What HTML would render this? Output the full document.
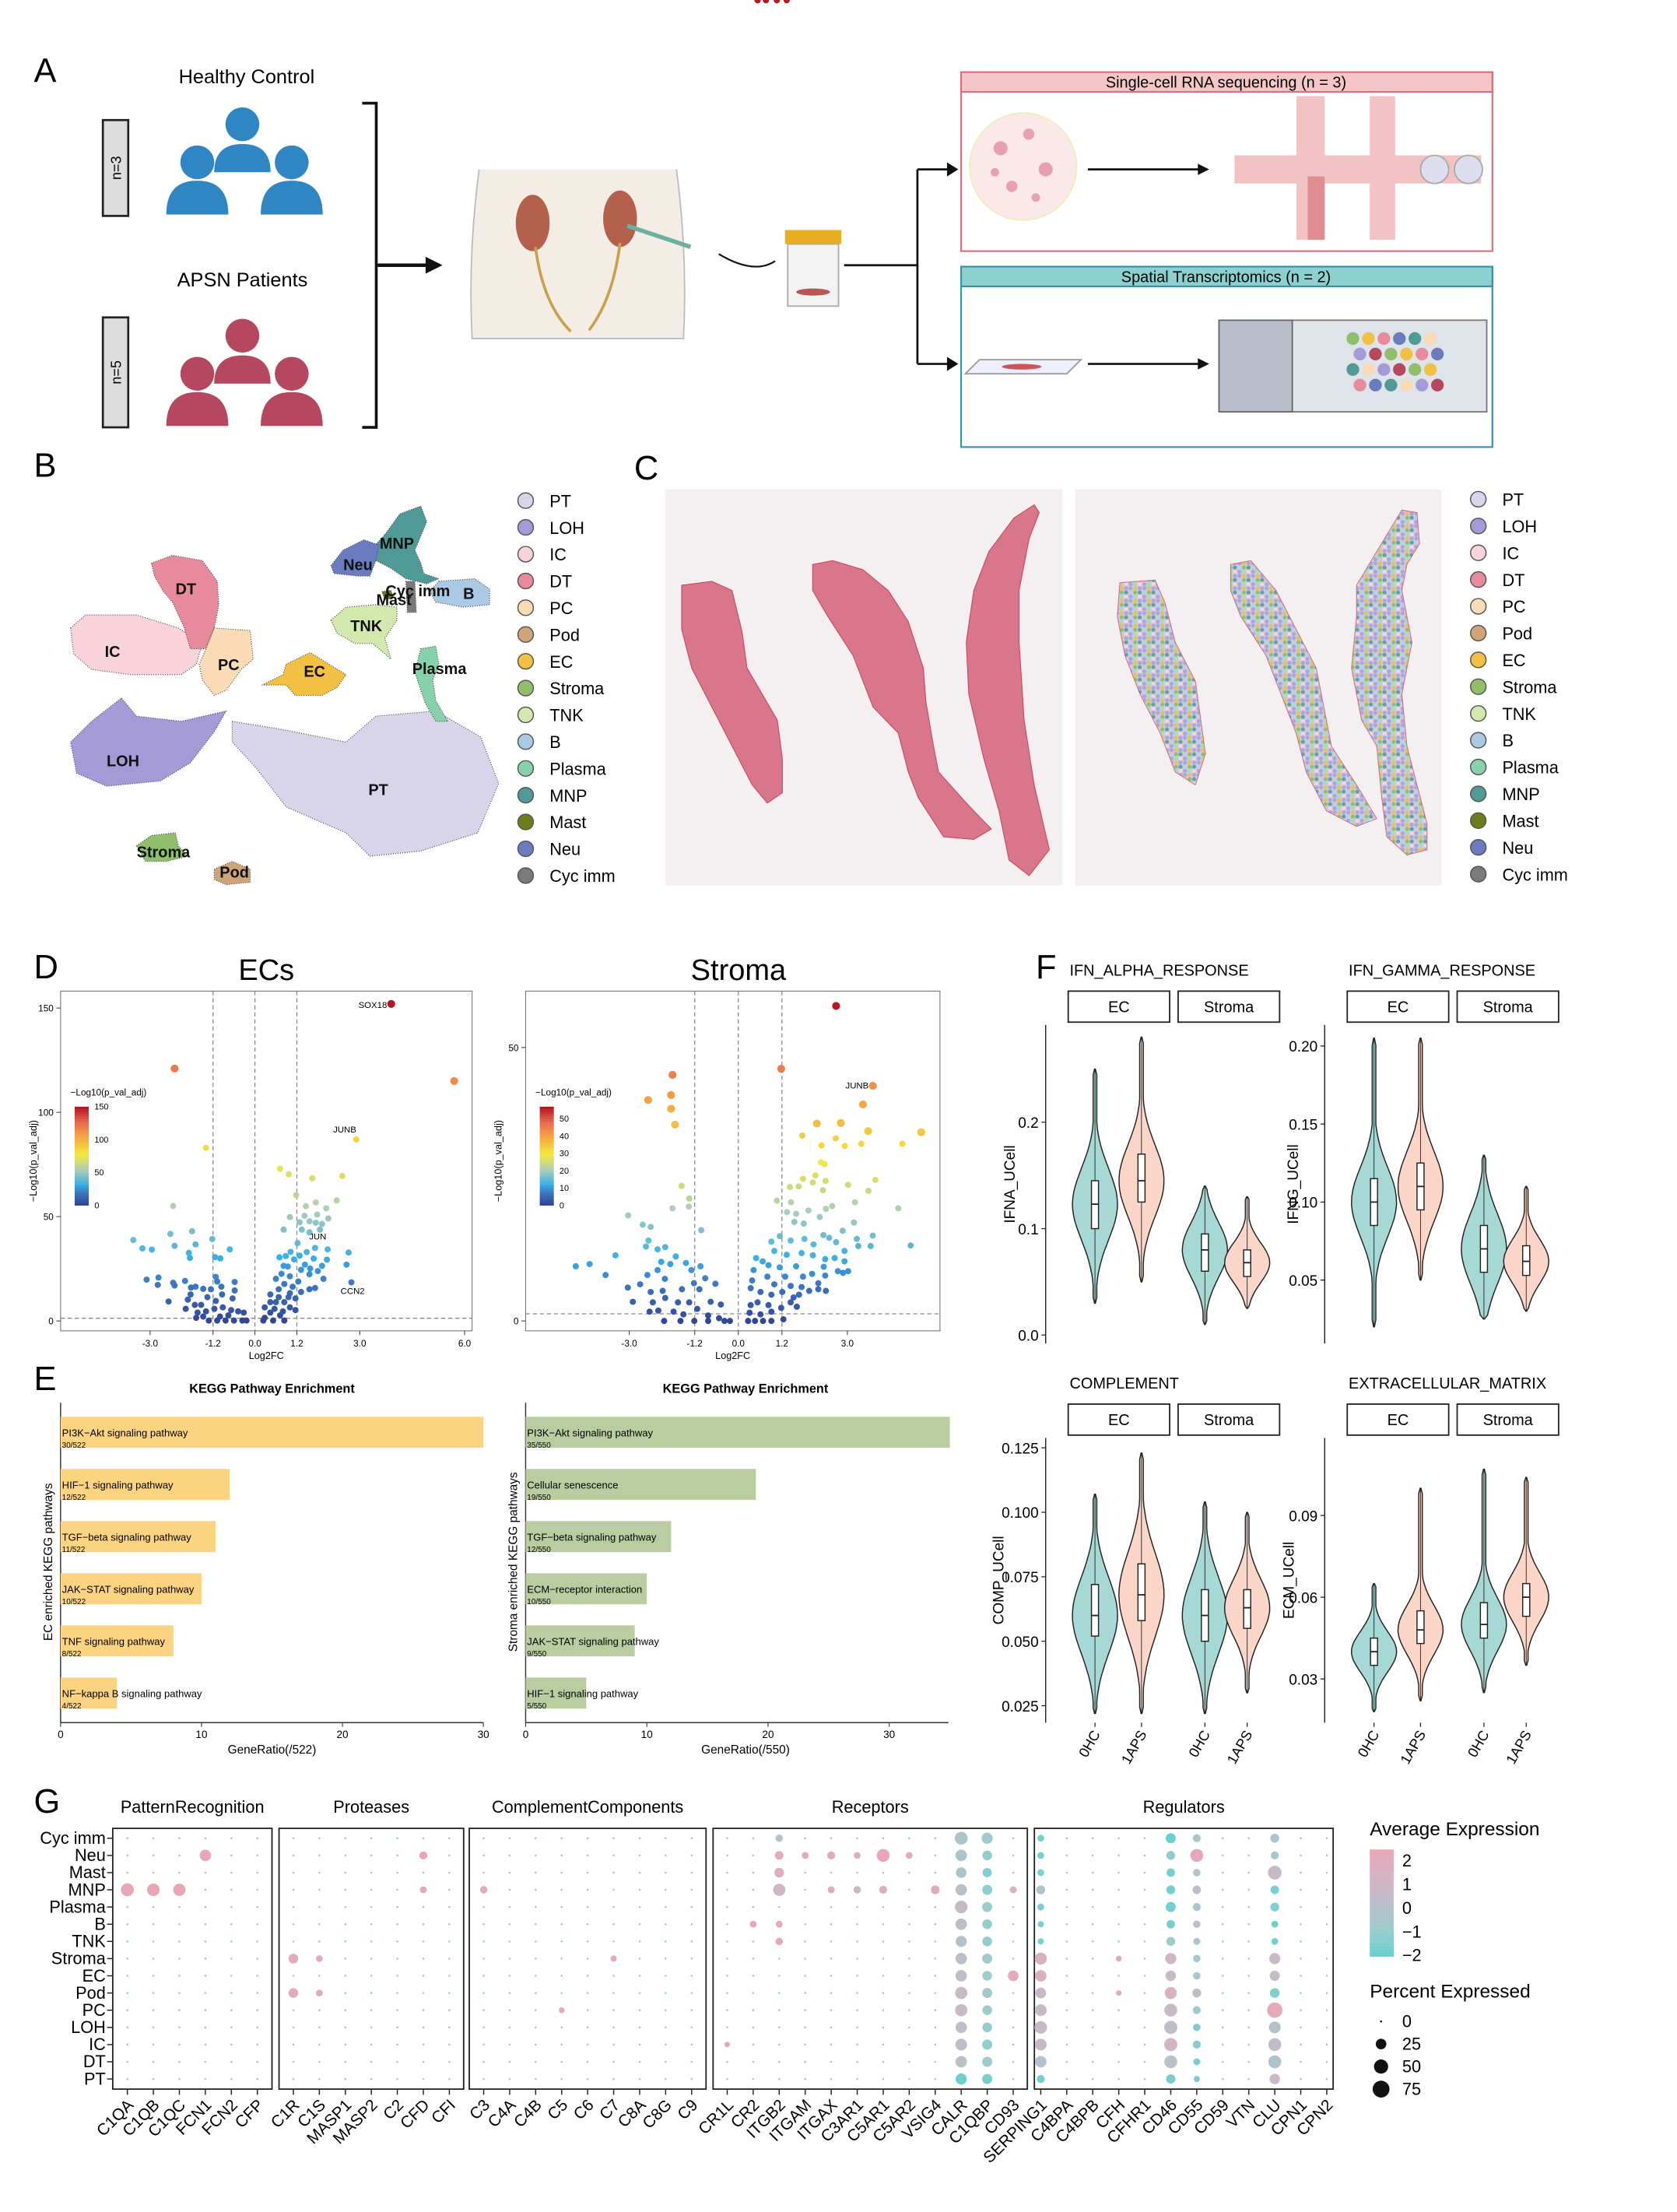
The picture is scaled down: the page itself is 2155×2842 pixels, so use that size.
<!DOCTYPE html>
<html><head><meta charset="utf-8">
<style>
html,body{margin:0;padding:0;background:#fff;overflow:hidden;}
svg{display:block;font-family:"Liberation Sans",Arial,sans-serif;}
</style></head>
<body>
<svg id="fig" width="2155" height="2842" viewBox="0 0 1190 1569" xmlns="http://www.w3.org/2000/svg">
<defs>
<pattern id="spotpat" width="27" height="48" patternUnits="userSpaceOnUse">
<rect width="27" height="48" fill="#c9cbe2"/>
<ellipse cx="4.5" cy="8" rx="4" ry="7.5" fill="#a9a6dc"/><ellipse cx="13.5" cy="8" rx="4" ry="7.5" fill="#a9a6dc"/><ellipse cx="22.5" cy="8" rx="4" ry="7.5" fill="#f2c043"/>
<ellipse cx="4.5" cy="24" rx="4" ry="7.5" fill="#5aa29d"/><ellipse cx="22.5" cy="24" rx="4" ry="7.5" fill="#8fbf6a"/>
<ellipse cx="4.5" cy="40" rx="4" ry="7.5" fill="#f8d3da"/><ellipse cx="13.5" cy="40" rx="4" ry="7.5" fill="#a9a6dc"/><ellipse cx="22.5" cy="40" rx="4" ry="7.5" fill="#a6dcbc"/>
</pattern>
<clipPath id="clipHE"><rect x="472" y="347" width="282" height="281"/></clipPath>
<clipPath id="clipSP"><rect x="763" y="347" width="260" height="281"/></clipPath>
</defs>
<rect width="1190" height="1569" fill="#fff"/>
<!-- Panel A -->
<g>
<text x="24" y="58" font-size="24">A</text>
<text x="175" y="59" font-size="14" text-anchor="middle">Healthy Control</text>
<text x="172" y="203" font-size="14" text-anchor="middle">APSN Patients</text>
<rect x="73" y="85" width="18" height="68" fill="#ddd" stroke="#222" stroke-width="1.5"/>
<text transform="translate(86,119) rotate(-90)" font-size="10" text-anchor="middle">n=3</text>
<rect x="73" y="225" width="18" height="78" fill="#ddd" stroke="#222" stroke-width="1.5"/>
<text transform="translate(86,264) rotate(-90)" font-size="10" text-anchor="middle">n=5</text>
<g fill="#2f86c3">
<circle cx="172" cy="88" r="12"/><path d="M152 122 q0-20 20-20 q20 0 20 20z"/>
<circle cx="140" cy="115" r="12"/><path d="M118 152 q0-24 22-24 q22 0 22 24z"/>
<circle cx="207" cy="115" r="12"/><path d="M185 152 q0-24 22-24 q22 0 22 24z"/>
</g>
<g fill="#b5475f">
<circle cx="172" cy="238" r="12"/><path d="M152 272 q0-20 20-20 q20 0 20 20z"/>
<circle cx="140" cy="265" r="12"/><path d="M118 302 q0-24 22-24 q22 0 22 24z"/>
<circle cx="207" cy="265" r="12"/><path d="M185 302 q0-24 22-24 q22 0 22 24z"/>
</g>
<path d="M257 73 h10 v230 h-10" fill="none" stroke="#111" stroke-width="2"/>
<path d="M268 188 h36" stroke="#111" stroke-width="2.5"/><path d="M302 182 l12 6 l-12 6z" fill="#111"/>
<g>
<path d="M340 120 q-8 60 -5 120 h150 q3 -60 -5 -120" fill="#f4ede6" stroke="#bbb"/>
<ellipse cx="378" cy="158" rx="12" ry="20" fill="#b5604a"/><ellipse cx="440" cy="155" rx="12" ry="20" fill="#b5604a"/>
<path d="M380 175 q5 40 25 60 M440 172 q-5 40 -22 62" stroke="#c8a24a" stroke-width="2" fill="none"/>
<path d="M445 160 l45 15" stroke="#6ab0a0" stroke-width="3"/>
</g>
<path d="M510 180 q25 15 40 5" stroke="#111" fill="none" stroke-width="1.2"/>
<g>
<rect x="557" y="163" width="40" height="10" fill="#e8b020"/>
<rect x="559" y="173" width="36" height="44" fill="#f3f3f3" stroke="#aaa"/>
<ellipse cx="577" cy="207" rx="12" ry="2.5" fill="#b55"/>
</g>
<path d="M599 188 h52 M651 120 v138 M651 120 h22 M651 258 h22" stroke="#111" stroke-width="1.5" fill="none"/>
<path d="M672 115 l8 5 l-8 5z M672 253 l8 5 l-8 5z" fill="#111"/>
<rect x="682" y="51" width="377" height="127" fill="#fff" stroke="#d9707a" stroke-width="1.2"/>
<rect x="682" y="51" width="377" height="14" fill="#f4c6c8" stroke="#d9707a" stroke-width="1.2"/>
<text x="870" y="62" font-size="11" text-anchor="middle">Single-cell RNA sequencing (n = 3)</text>
<circle cx="726" cy="118" r="38" fill="#fbe9ea" stroke="#eeb"/>
<g fill="#e8a0b0"><circle cx="710" cy="105" r="5"/><circle cx="730" cy="95" r="4"/><circle cx="742" cy="120" r="5"/><circle cx="718" cy="132" r="4"/><circle cx="735" cy="140" r="3"/><circle cx="706" cy="122" r="3"/></g>
<path d="M772 120 h80" stroke="#111" stroke-width="1.5"/><path d="M850 116 l8 4 l-8 4z" fill="#111"/>
<rect x="876" y="110" width="175" height="20" fill="#f3c3c3"/>
<rect x="920" y="68" width="20" height="102" fill="#f3c3c3"/><rect x="972" y="68" width="18" height="102" fill="#f3c3c3"/>
<rect x="928" y="125" width="12" height="45" fill="#e08c90"/>
<circle cx="1018" cy="120" r="10" fill="#dde" stroke="#aaa"/><circle cx="1042" cy="120" r="10" fill="#dde" stroke="#aaa"/>
<rect x="682" y="189" width="377" height="128" fill="#fff" stroke="#3a8fb5" stroke-width="1.2"/>
<rect x="682" y="189" width="377" height="14" fill="#8dd0d0" stroke="#3a8fb5" stroke-width="1.2"/>
<text x="870" y="200" font-size="11" text-anchor="middle">Spatial Transcriptomics (n = 2)</text>
<path d="M685 265 l10 -10 h72 l-10 10z" fill="#eef" stroke="#999"/><ellipse cx="725" cy="260" rx="14" ry="2" fill="#c55"/>
<path d="M772 258 h80" stroke="#111" stroke-width="1.5"/><path d="M850 254 l8 4 l-8 4z" fill="#111"/>
<rect x="865" y="227" width="190" height="65" fill="#dfe3ea" stroke="#777"/>
<rect x="865" y="227" width="52" height="65" fill="#b8bfca" stroke="#666"/>
<g id="spotgrid"></g>
</g>

<!-- Panel B -->
<g>
<text x="24" y="338" font-size="24">B</text>
<g id="umap" transform="translate(33.1,342.3) scale(0.2124,0.184)"></g>
<g id="umapLabels"></g>
<g id="legendB"></g>
</g>
<!-- Panel C -->
<g>
<text x="450" y="340" font-size="24">C</text>
<rect x="472" y="347" width="282" height="281" fill="#f4eff0"/>
<rect x="763" y="347" width="260" height="281" fill="#f4eff0"/>
<g clip-path="url(#clipHE)"><g id="tissueHE" transform="translate(469.4,345.1) scale(0.3574,0.184)"></g></g>
<g clip-path="url(#clipSP)"><g id="tissueSP" transform="translate(469.4,345.1) scale(0.3574,0.184)"></g></g>
<g id="legendC"></g>
</g>
<!-- Panel D -->
<g>
<text x="24" y="694" font-size="24">D</text>
<text x="189" y="695" font-size="21" text-anchor="middle">ECs</text>
<text x="524" y="695" font-size="21" text-anchor="middle">Stroma</text>
<g id="volc"></g>
</g>
<!-- Panel E -->
<g>
<text x="24" y="986" font-size="24">E</text>
<g id="kegg"></g>
</g>
<!-- Panel F -->
<g>
<text x="735" y="694" font-size="24">F</text>
<g id="viol"></g>
</g>
<!-- Panel G -->
<g>
<text x="24" y="1286" font-size="24">G</text>
<g id="dots"></g>
</g>
</svg>
<script>
const NS="http://www.w3.org/2000/svg";
function mk(parent,tag,attrs,text){const e=document.createElementNS(NS,tag);for(const k in attrs)e.setAttribute(k,attrs[k]);if(text!==undefined)e.textContent=text;parent.appendChild(e);return e;}

const cellTypes=["PT","LOH","IC","DT","PC","Pod","EC","Stroma","TNK","B","Plasma","MNP","Mast","Neu","Cyc imm"];
const cellColors=["#d8d4ea","#a49ad8","#f8d3da","#e68a9c","#f9dcb6","#cfa578","#f2c043","#8fbf6a","#d2e8ad","#aac9e4","#86d2aa","#4f9a96","#6b7e1a","#6b7bbf","#7a7a7a"];

(function(){const g=document.getElementById('spotgrid');const cols=["#8fbf6a","#f2c043","#e68a9c","#6b7bbf","#4f9a96","#f9dcb6","#a49ad8","#b5475f"];let k=0;
for(let r=0;r<4;r++)for(let c=0;c<6;c++){mk(g,'circle',{cx:960+c*11+(r%2)*5,cy:240+r*11,r:4.5,fill:cols[(k++)%cols.length]});}})();

// ---------- Panel B UMAP ----------
const umapShapes={
"PT":"620,920 780,950 1000,1000 1100,900 1300,880 1450,980 1510,1160 1440,1350 1250,1420 1080,1440 1000,1350 800,1250 700,1100 620,1000",
"LOH":"80,1000 150,920 250,830 300,900 450,920 600,880 560,960 480,1080 380,1150 200,1170 100,1120",
"IC":"80,560 130,510 300,510 440,560 520,620 500,700 450,740 280,740 150,720 90,660",
"DT":"350,310 420,280 520,300 570,380 575,470 560,560 530,640 480,640 460,560 420,460 390,420 360,360",
"PC":"560,560 680,570 690,680 650,720 600,800 560,820 520,760 510,700 540,620",
"EC":"800,700 880,655 930,690 1000,740 970,790 920,820 830,820 800,780 720,780 790,740",
"Stroma":"300,1400 350,1360 430,1350 440,1400 470,1440 400,1460 330,1460",
"Pod":"560,1490 620,1460 680,1490 680,1540 600,1550 560,1530",
"Plasma":"1250,640 1300,630 1310,700 1290,760 1300,840 1340,920 1300,920 1265,850 1250,800 1230,730",
"TNK":"950,530 1000,480 1100,470 1170,480 1170,530 1130,600 1150,680 1090,620 1030,620 970,580",
"B":"1310,380 1430,370 1480,410 1480,470 1390,480 1300,460 1280,420",
"MNP":"1130,200 1180,120 1250,90 1270,150 1230,260 1250,310 1260,350 1310,370 1270,390 1200,370 1150,330 1100,300 1090,250",
"Mast":"1120,420 1150,415 1160,445 1130,450",
"Neu":"950,320 990,260 1060,220 1110,240 1100,300 1080,360 1040,360 960,350",
"Cyc imm":"1200,380 1230,380 1235,500 1205,500"};
const umapLabels=[["DT",465,430],["IC",220,672],["PC",608,722],["EC",895,748],["LOH",255,1094],["PT",1108,1205],["Stroma",390,1445],["Pod",627,1522],["Plasma",1312,738],["TNK",1068,572],["B",1410,448],["MNP",1170,255],["Neu",1040,337],["Cyc imm",1240,438],["Mast",1160,472]];
(function(){const g=document.getElementById('umap');const gl=document.getElementById('umapLabels');
cellTypes.forEach((c,i)=>{const e=mk(g,'polygon',{points:umapShapes[c],fill:cellColors[i],stroke:"#444","stroke-width":1.2,"stroke-dasharray":"1 2","stroke-linejoin":"round","vector-effect":"non-scaling-stroke"});

});
umapLabels.forEach(l=>mk(gl,'text',{x:33.1+0.2124*l[1],y:342.3+0.184*l[2],"font-size":11,"font-weight":"bold","text-anchor":"middle",fill:"#111"},l[0]));})();
function legend(id,x,y0){const g=document.getElementById(id);cellTypes.forEach((c,i)=>{const y=y0+i*19;
const d=mk(g,'circle',{cx:x,cy:y,r:5.5,fill:cellColors[i],stroke:"#555","stroke-width":0.8});


mk(g,'text',{x:x+17,y:y+4.5,"font-size":12},c);});}
legend('legendB',373,355);legend('legendC',1049,354);

// ---------- Panel C tissue ----------
(function(){const gh=document.getElementById('tissueHE');const gs=document.getElementById('tissueSP');
const he=["40,380 100,365 140,400 160,560 170,700 230,900 240,1050 240,1180 210,1220 180,1150 140,1000 100,850 60,700 40,550",
"300,300 340,285 400,320 450,400 490,520 520,700 525,830 540,1000 550,1100 610,1230 655,1320 620,1360 560,1350 510,1200 490,1100 470,950 420,850 380,650 330,500 300,400",
"700,120 740,70 750,100 730,200 710,400 710,600 720,900 740,1150 770,1400 730,1500 690,1440 670,1250 640,1050 610,800 605,600 620,400 650,250"];
const sp=["910,370 980,360 1000,450 1020,600 1060,750 1080,1030 1060,1150 1020,1100 990,950 950,800 920,650 905,500",
"1130,300 1170,285 1220,400 1260,550 1300,700 1320,900 1330,1000 1380,1150 1420,1280 1380,1310 1320,1250 1280,1100 1260,950 1230,800 1200,650 1150,500 1130,400",
"1470,90 1500,100 1505,220 1480,300 1470,400 1490,600 1470,800 1480,1000 1500,1150 1520,1300 1520,1400 1480,1420 1440,1350 1430,1200 1420,1000 1390,900 1370,700 1380,500 1380,380 1420,250"];
he.forEach(p=>{const e=mk(gh,'polygon',{points:p,fill:"#da7689",stroke:"#c9405a","stroke-width":1,"vector-effect":"non-scaling-stroke"});

});
sp.forEach(p=>{const e=mk(gs,'polygon',{points:p,fill:"url(#spotpat)",stroke:"#d9697c","stroke-width":1,"vector-effect":"non-scaling-stroke"});

});})();

// ---------- Panel D volcano ----------
const ecLfc=[3.9,5.7,-2.3,-1.4,2.9,0.72,0.97,1.64,2.50,1.18,1.46,1.74,2.04,2.34,-2.34,1.0,1.42,1.78,2.1,1.28,1.56,1.74,1.92,0.82,1.34,1.86,1.56,
-3.48,-3.22,-2.95,-2.42,-2.3,-1.8,-1.7,-1.89,-1.86,-1.22,-1.14,-0.99,-0.72,
1.22,1.72,2.08,2.68,1.48,1.02,0.7,0.88,1.12,1.28,1.68,2.06,1.43,0.94,0.82,1.58,1.92,2.62,1.32,1.8,1.96,2.76,1.56,1.72,1.56,1.32,1.0,0.6,0.76,1.0,0.44,0.68,0.84,1.08,1.24,0.6,0.28,0.44,0.28,0.52,0.84,1.0,1.16,0.84,0.72,0.96,1.16,0.68,0.44,0.56,0.8,0.24,
-3.1,-2.76,-2.78,-2.34,-2.3,-2.0,-1.83,-1.7,-1.84,-1.92,-1.98,-2.47,-1.72,-1.54,-1.48,-1.36,-1.26,-1.12,-1.08,-0.96,-0.94,-0.58,-0.58,-0.64,-1.12,-1.64,-1.4,-1.16,-0.92,-0.68,-0.48,-0.32,-1.68,-1.32,-1.08,-0.84,-0.6,-0.36,-0.24,-1.48,-1.0,-0.76];
const ecP=[152,115,121,83,87,73,70.3,68.4,69.5,60.3,55,56.8,54,57.8,55.1,49.8,50.4,51,49.1,47.3,47.8,47.1,46.5,43.8,43.8,43.8,42.5,
38.8,34.8,34.2,41.7,36,43,36.7,32.6,30.2,39.3,30.6,30,34.3,
37.3,35,34.3,32.8,33,33.1,30.5,31.1,29.5,31.3,29.9,29.4,27,26.1,26.4,25.1,26.4,27,24.5,23.9,20.2,18.5,22.4,15.8,15.2,13.9,13.3,20.2,22.6,21.4,12.7,15.2,17.7,16.4,18.9,9,6.5,4,1.5,0.2,9,6.5,5.2,0.2,2.7,11.4,10.8,11.4,9,5.8,4.6,0.2,
19.8,20.8,17.3,18.3,17,19.2,16,16.4,12.7,10.2,5.8,9.3,7.7,7.7,15.4,11.4,15.2,21.1,18.9,16.4,12.7,18.7,14.6,10.8,9.6,4,4.6,5.8,6.5,5.2,4.6,4,1.5,0.2,0.2,0.2,0.2,0.2,0.2,2.1,2.1,2.7];
const stLfc=[2.69,1.18,-1.81,-2.48,-1.85,-1.85,-1.74,3.70,3.43,2.16,2.82,3.57,5.03,1.76,2.68,2.29,2.93,3.38,4.51,2.27,2.37,2.12,1.78,2.40,3.02,3.77,1.42,1.66,2.05,2.33,3.58,1.06,1.45,3.21,4.40,1.34,1.59,1.93,2.24,2.41,2.58,1.54,1.80,3.18,
-1.56,-1.35,-1.36,-1.81,-3.03,-2.63,-2.41,-1.02,-2.47,-2.54,-2.22,-2.01,-3.38,-4.09,-4.47,-3.65,-1.72,-2.12,-1.87,-1.44,-2.22,-2.50,-2.02,-1.29,-1.04,-0.91,-0.63,-3.04,-2.70,-2.41,-2.08,-1.55,-1.22,-1.07,-2.90,-2.35,-2.01,-1.66,-1.35,-0.76,-0.48,-2.44,-2.20,-1.78,-1.51,-1.13,-0.83,-0.53,-2.04,-1.59,-1.21,-0.83,-0.38,-0.23,
1.14,1.44,2.34,2.50,2.87,3.26,3.70,4.74,3.64,3.30,2.69,2.07,1.82,0.91,0.99,0.49,0.67,1.33,1.74,2.05,2.39,2.65,2.92,2.92,0.83,0.42,1.14,1.59,2.35,2.74,3.02,2.88,2.03,2.39,1.78,1.29,0.80,0.38,0.99,1.44,1.74,1.95,2.20,2.41,2.20,0.34,0.61,0.91,1.21,1.52,1.67,0.34,0.53,0.83,1.18,1.44,1.61,0.31,0.61,0.91,1.24,0.27,0.46,0.68,0.91,0.53,0.76,1.06,1.33];
const stP=[57.6,46.1,45.0,40.4,41.3,38.8,35.9,43.0,39.6,36.1,36.2,34.7,34.5,33.9,33.4,32.1,32.0,32.4,32.4,29.0,28.7,26.6,26.0,25.6,24.9,25.8,24.5,24.6,25.3,23.9,23.8,22.0,21.7,21.7,20.6,19.9,19.6,20.2,19.0,20.5,21.0,18.1,17.8,18.0,
24.7,22.4,20.9,20.6,19.3,17.6,17.2,16.6,14.7,13.6,13.1,13.5,12.0,10.4,10.0,8.4,11.8,10.8,10.4,10.6,9.3,8.4,7.7,9.3,10.0,7.8,6.8,6.1,6.7,5.3,5.5,5.8,6.9,5.8,3.5,3.4,4.2,3.4,3.4,3.5,3.0,1.7,1.9,1.7,1.2,2.2,1.0,0.5,0,0,0,0,0,0,
15.5,14.7,15.7,15.2,16.5,15.0,15.6,13.8,13.7,13.7,14.4,14.0,15.0,14.5,12.8,11.5,10.9,12.1,12.4,12.0,11.3,11.5,12.8,10.9,10.2,9.3,9.8,10.0,9.9,9.1,9.1,8.8,8.6,8.3,8.1,8.1,8.1,7.4,6.7,6.4,6.2,5.5,5.8,5.5,6.9,6.0,5.3,4.8,5.3,4.3,4.8,2.9,3.4,2.9,2.4,3.4,2.6,1.5,1.2,1.7,0.3,0,0,0,0];
const ecLabels=[["SOX18",3.9,152,-3,3,"end"],["JUNB",2.9,87,0,-5,"end"],["JUN",1.55,41,0,3,"start"],["CCN2",2.45,15,0,3,"start"]];
const stLabels=[["JUNB",3.5,42,-6,-2,"middle"]];
function vColor(t){const st=[[0,[50,70,150]],[0.12,[60,120,195]],[0.2,[55,175,230]],[0.35,[170,205,185]],[0.52,[245,232,60]],[0.7,[245,165,65]],[0.85,[234,105,80]],[1,[180,25,35]]];
t=Math.max(0,Math.min(1,t));for(let i=1;i<st.length;i++){if(t<=st[i][0]){const a=st[i-1],b=st[i],f=(t-a[0])/(b[0]-a[0]);return 'rgb('+a[1].map((v,k)=>Math.round(v+(b[1][k]-v)*f)).join(',')+')';}}return 'rgb(180,25,35)';}
function volcano(o){const g=document.getElementById('volc');
const X=v=>o.x0+(v-o.xmin)*o.sx, Y=v=>o.y0-v*o.sy;
const r=mk(g,'rect',{x:o.l,y:o.t,width:o.w,height:o.h,fill:"none",stroke:"#777","stroke-width":0.6});

[-1.2,0,1.2].forEach(v=>mk(g,'line',{x1:X(v),x2:X(v),y1:o.t,y2:o.t+o.h,stroke:"#888","stroke-dasharray":"3 2","stroke-width":0.7}));
mk(g,'line',{x1:o.l,x2:o.l+o.w,y1:Y(1.3),y2:Y(1.3),stroke:"#888","stroke-dasharray":"3 2","stroke-width":0.7});
o.lfc.forEach((v,i)=>{const p=o.p[i];const c=mk(g,'circle',{cx:X(v),cy:Y(p),r:p>o.pmax*0.6?2.8:2.2,fill:vColor(p/o.pmax)});
});
o.xt.forEach(v=>{mk(g,'line',{x1:X(v),x2:X(v),y1:o.t+o.h,y2:o.t+o.h+3,stroke:"#444","stroke-width":0.6});mk(g,'text',{x:X(v),y:o.t+o.h+11,"font-size":6.5,"text-anchor":"middle"},v.toFixed(1));});
o.yt.forEach(v=>{mk(g,'line',{x1:o.l-3,x2:o.l,y1:Y(v),y2:Y(v),stroke:"#444","stroke-width":0.6});mk(g,'text',{x:o.l-5,y:Y(v)+2.5,"font-size":6.5,"text-anchor":"end"},v);});
mk(g,'text',{x:o.l+o.w/2,y:o.t+o.h+20,"font-size":7,"text-anchor":"middle"},"Log2FC");
mk(g,'text',{transform:`translate(${o.l-17},${o.t+o.h/2}) rotate(-90)`,"font-size":7,"text-anchor":"middle"},"−Log10(p_val_adj)");
o.labels.forEach(l=>mk(g,'text',{x:X(l[1])+l[3],y:Y(l[2])+l[4],"font-size":6.3,"text-anchor":l[5]},l[0]));
const lx=o.l+10,ly=o.t+82;mk(g,'text',{x:lx-3,y:ly-8,"font-size":6.5},"−Log10(p_val_adj)");
for(let i=0;i<40;i++)mk(g,'rect',{x:lx,y:ly+i*1.75,width:10,height:1.9,fill:vColor(o.cbmax/o.pmax*(1-i/39))});
o.cb.forEach(v=>mk(g,'text',{x:lx+14,y:ly+70-70*v/o.cbmax+2,"font-size":6},v));}
volcano({name:"ecs-volcano",l:43,t:703,w:292,h:241,x0:106.5,xmin:-3,sx:24.8,y0:937,sy:1.48,lfc:ecLfc,p:ecP,pmax:150,cbmax:150,xt:[-3,-1.2,0,1.2,3,6],yt:[0,50,100,150],labels:ecLabels,cb:[0,50,100,150]});
volcano({name:"stroma-volcano",l:373,t:703,w:294,h:241,x0:446.5,xmin:-3,sx:25.8,y0:937,sy:3.88,lfc:stLfc,p:stP,pmax:57,cbmax:57,xt:[-3,-1.2,0,1.2,3],yt:[0,50],labels:stLabels,cb:[0,10,20,30,40,50]});

// ---------- Panel E KEGG ----------
const ecPathways=["PI3K−Akt signaling pathway","HIF−1 signaling pathway","TGF−beta signaling pathway","JAK−STAT signaling pathway","TNF signaling pathway","NF−kappa B signaling pathway"];
const ecCounts=[30,12,11,10,8,4];
const stPathways=["PI3K−Akt signaling pathway","Cellular senescence","TGF−beta signaling pathway","ECM−receptor interaction","JAK−STAT signaling pathway","HIF−1 signaling pathway"];
const stCounts=[35,19,12,10,9,5];
function kegg(o){const g=document.getElementById('kegg');const X=v=>o.l+v*o.sx;
mk(g,'text',{x:o.l+o.tw,y:988,"font-size":9,"font-weight":"bold","text-anchor":"middle"},"KEGG Pathway Enrichment");
mk(g,'line',{x1:o.l,x2:o.l,y1:995,y2:1222,stroke:"#333","stroke-width":0.8});
mk(g,'line',{x1:o.l,x2:o.l+o.w,y1:1222,y2:1222,stroke:"#333","stroke-width":0.8});
o.names.forEach((n,i)=>{const cy=1016+i*37;const b=mk(g,'rect',{x:o.l,y:cy-11,width:X(o.counts[i])-o.l,height:22,fill:o.color});

mk(g,'text',{x:o.l+1,y:cy+3,"font-size":7.2},n);mk(g,'text',{x:o.l+1,y:cy+11,"font-size":5.5},o.counts[i]+"/"+o.total);});
o.ticks.forEach(v=>{mk(g,'line',{x1:X(v),x2:X(v),y1:1222,y2:1225,stroke:"#333","stroke-width":0.6});mk(g,'text',{x:X(v),y:1233,"font-size":7.5,"text-anchor":"middle"},v);});
mk(g,'text',{x:o.l+o.tw,y:1244,"font-size":8.5,"text-anchor":"middle"},"GeneRatio(/"+o.total+")");
mk(g,'text',{transform:`translate(${o.l-6},1108) rotate(-90)`,"font-size":8.5,"text-anchor":"middle"},o.ylab);}
kegg({id:"ec-kegg",l:43,sx:10,w:300,tw:150,names:ecPathways,counts:ecCounts,total:522,color:"#fcd381",ticks:[0,10,20,30],ylab:"EC enriched KEGG pathways"});
kegg({id:"stroma-kegg",l:373,sx:8.6,w:300,tw:156,names:stPathways,counts:stCounts,total:550,color:"#b9cda0",ticks:[0,10,20,30],ylab:"Stroma enriched KEGG pathways"});

// ---------- Panel F violins ----------
const fTitles=["IFN_ALPHA_RESPONSE","IFN_GAMMA_RESPONSE","COMPLEMENT","EXTRACELLULAR_MATRIX"];
const fYlabels=["IFNA_UCell","IFNG_UCell","COMP_UCell","ECM_UCell"];
const fGroups=["EC HC","EC APS","Stroma HC","Stroma APS"];
const ifnaStats=[[0.03,0.10,0.123,0.145,0.25],[0.05,0.125,0.145,0.17,0.28],[0.01,0.06,0.08,0.095,0.14],[0.025,0.055,0.068,0.08,0.13]];
const ifngStats=[[0.02,0.085,0.10,0.115,0.205],[0.05,0.095,0.11,0.125,0.205],[0.025,0.055,0.07,0.085,0.13],[0.03,0.053,0.062,0.072,0.11]];
const compStats=[[0.022,0.052,0.06,0.072,0.107],[0.022,0.058,0.068,0.08,0.123],[0.022,0.05,0.06,0.07,0.104],[0.03,0.055,0.063,0.07,0.1]];
const ecmStats=[[0.018,0.035,0.04,0.045,0.065],[0.022,0.043,0.048,0.055,0.10],[0.025,0.045,0.05,0.058,0.107],[0.035,0.053,0.06,0.065,0.104]];
const ifnaTicks=[0.0,0.1,0.2],ifngTicks=[0.05,0.10,0.15,0.20],compTicks=[0.025,0.050,0.075,0.100,0.125],ecmTicks=[0.03,0.06,0.09];
function violinPanel(o){const g=document.getElementById('viol');const Y=v=>o.yref-(v-o.vref)*o.sy;
mk(g,'text',{x:o.l+17,y:o.t-35,"font-size":11},o.title);
[[o.l+16,"EC"],[o.l+94,"Stroma"]].forEach(s=>{mk(g,'rect',{x:s[0],y:o.t-24,width:72,height:22,fill:"#fff",stroke:"#222","stroke-width":1});mk(g,'text',{x:s[0]+36,y:o.t-9,"font-size":11,"text-anchor":"middle"},s[1]);});
mk(g,'line',{x1:o.l,x2:o.l,y1:o.t,y2:o.b,stroke:"#222","stroke-width":0.8});
o.ticks.forEach(v=>{mk(g,'line',{x1:o.l-3,x2:o.l,y1:Y(v),y2:Y(v),stroke:"#222","stroke-width":0.7});mk(g,'text',{x:o.l-5,y:Y(v)+4,"font-size":10.5,"text-anchor":"end"},o.fmt(v));});
mk(g,'text',{transform:`translate(${o.l+o.yl},${(o.t+o.b)/2}) rotate(-90)`,"font-size":10.5,"text-anchor":"middle"},o.ylab);
const xs=[o.l+35,o.l+68,o.l+113,o.l+143];
o.stats.forEach((s,i)=>{const cx=xs[i],W=16;const sd=(s[3]-s[1])/1.35;let L=[],R=[];
for(let k=0;k<=40;k++){const v=s[0]+(s[4]-s[0])*k/40;let w=W*Math.exp(-0.5*Math.pow((v-s[2])/sd,2));w=Math.max(w,1.3);if(k==0||k==40)w=0.3;L.push([cx-w,Y(v)]);R.unshift([cx+w,Y(v)]);}
const pts=L.concat(R).map(p=>p[0].toFixed(1)+','+p[1].toFixed(1)).join(' ');
const vp=mk(g,'polygon',{points:pts,fill:i%2?"#fbd6c8":"#a6d9d5",stroke:"#222","stroke-width":0.8});

mk(g,'rect',{x:cx-2.5,y:Y(s[3]),width:5,height:Y(s[1])-Y(s[3]),fill:"#fff",stroke:"#222","stroke-width":0.8});
mk(g,'line',{x1:cx-2.5,x2:cx+2.5,y1:Y(s[2]),y2:Y(s[2]),stroke:"#222","stroke-width":1});
mk(g,'line',{x1:cx,x2:cx,y1:Y(s[4]),y2:Y(s[3]),stroke:"#222","stroke-width":0.5});
mk(g,'line',{x1:cx,x2:cx,y1:Y(s[1]),y2:Y(s[0]),stroke:"#222","stroke-width":0.5});
if(o.xl){mk(g,'line',{x1:cx,x2:cx,y1:o.b,y2:o.b+3,stroke:"#222","stroke-width":0.7});
mk(g,'text',{transform:`translate(${cx+4},${o.b+8}) rotate(-60)`,"font-size":10,"text-anchor":"end"},i%2?"1APS":"0HC");}});}
violinPanel({l:742,t:727,b:953,title:fTitles[0],ylab:fYlabels[0],stats:ifnaStats,ticks:ifnaTicks,yref:947,vref:0,sy:755,fmt:v=>v.toFixed(1),yl:-22});
violinPanel({l:940,t:727,b:953,title:fTitles[1],ylab:fYlabels[1],stats:ifngStats,ticks:ifngTicks,yref:908,vref:0.05,sy:1107,fmt:v=>v.toFixed(2),yl:-19});
violinPanel({l:742,t:1020,b:1222,title:fTitles[2],ylab:fYlabels[2],stats:compStats,ticks:compTicks,yref:1210,vref:0.025,sy:1830,fmt:v=>v.toFixed(3),xl:1,yl:-30});
violinPanel({l:940,t:1020,b:1222,title:fTitles[3],ylab:fYlabels[3],stats:ecmStats,ticks:ecmTicks,yref:1191,vref:0.03,sy:1933,fmt:v=>v.toFixed(2),xl:1,yl:-22});

// ---------- Panel G dot plot ----------
const dotGroups=["PatternRecognition","Proteases","ComplementComponents","Receptors","Regulators"];
const groupGenes=[["C1QA","C1QB","C1QC","FCN1","FCN2","CFP"],["C1R","C1S","MASP1","MASP2","C2","CFD","CFI"],["C3","C4A","C4B","C5","C6","C7","C8A","C8G","C9"],["CR1L","CR2","ITGB2","ITGAM","ITGAX","C3AR1","C5AR1","C5AR2","VSIG4","CALR","C1QBP","CD93"],["SERPING1","C4BPA","C4BPB","CFH","CFHR1","CD46","CD55","CD59","VTN","CLU","CPN1","CPN2"]];
const dotRows=["Cyc imm","Neu","Mast","MNP","Plasma","B","TNK","Stroma","EC","Pod","PC","LOH","IC","DT","PT"];
const dotGene=["C1QA","C1QB","C1QC","FCN1","C1R","C1R","C1S","C1S","CFD","CFD","C3","C7","C5",
"ITGB2","ITGB2","ITGB2","ITGB2","ITGB2","ITGB2","CR2","CR1L","ITGAM","ITGAX","ITGAX","C3AR1","C3AR1","C5AR1","C5AR1","C5AR2","VSIG4","CD93","CD93",
"CALR","CALR","CALR","CALR","CALR","CALR","CALR","CALR","CALR","CALR","CALR","CALR","CALR","CALR","CALR",
"C1QBP","C1QBP","C1QBP","C1QBP","C1QBP","C1QBP","C1QBP","C1QBP","C1QBP","C1QBP","C1QBP","C1QBP","C1QBP","C1QBP","C1QBP",
"SERPING1","SERPING1","SERPING1","SERPING1","SERPING1","SERPING1","SERPING1","SERPING1","SERPING1","SERPING1","SERPING1","SERPING1","SERPING1","SERPING1","SERPING1",
"CD46","CD46","CD46","CD46","CD46","CD46","CD46","CD46","CD46","CD46","CD46","CD46","CD46","CD46","CD46",
"CD55","CD55","CD55","CD55","CD55","CD55","CD55","CD55","CD55","CD55","CD55","CD55","CD55","CD55","CD55",
"CLU","CLU","CLU","CLU","CLU","CLU","CLU","CLU","CLU","CLU","CLU","CLU","CLU","CLU","CLU","CFH","CFH"];
const dotCell=["MNP","MNP","MNP","Neu","Stroma","Pod","Stroma","Pod","Neu","MNP","MNP","Stroma","PC",
"Cyc imm","Neu","Mast","MNP","B","TNK","B","IC","Neu","Neu","MNP","Neu","MNP","Neu","MNP","Neu","MNP","EC","MNP",
"Cyc imm","Neu","Mast","MNP","Plasma","B","TNK","Stroma","EC","Pod","PC","LOH","IC","DT","PT",
"Cyc imm","Neu","Mast","MNP","Plasma","B","TNK","Stroma","EC","Pod","PC","LOH","IC","DT","PT",
"Cyc imm","Neu","Mast","MNP","Plasma","B","TNK","Stroma","EC","Pod","PC","LOH","IC","DT","PT",
"Cyc imm","Neu","Mast","MNP","Plasma","B","TNK","Stroma","EC","Pod","PC","LOH","IC","DT","PT",
"Cyc imm","Neu","Mast","MNP","Plasma","B","TNK","Stroma","EC","Pod","PC","LOH","IC","DT","PT",
"Cyc imm","Neu","Mast","MNP","Plasma","B","TNK","Stroma","EC","Pod","PC","LOH","IC","DT","PT","Stroma","Pod"];
const dotPct=[40,38,36,30,20,20,8,8,12,8,10,6,5,
10,15,20,35,8,10,8,4,8,12,8,8,10,40,12,8,15,25,8,
40,30,25,30,38,30,28,30,30,35,35,30,32,30,28,
28,20,18,22,22,20,20,22,20,22,20,20,22,22,22,
8,8,8,16,8,6,6,34,30,26,32,38,32,30,12,
22,16,14,16,22,14,16,28,24,34,40,42,42,40,18,
12,40,10,14,12,10,8,10,10,16,12,10,12,8,6,
16,12,46,14,16,8,8,28,22,20,60,32,40,40,24,5,4];
const dotExpr=[2,2,2,2,1.8,1.8,1.5,1.5,2,2,1.8,1.6,1.8,
-0.2,1.5,1.3,0.8,1.8,1.8,1.8,1.8,1.8,1.8,1.8,1.5,0.5,2,1.5,1.8,1.8,1.8,1.5,
-0.5,-0.5,-0.6,-0.2,0.5,0,-0.3,0,0.2,0.5,0.6,0,0,0,-2,
-0.8,-1.2,-1.5,-1.3,-1,-1.2,-1.2,-0.8,-1,-0.8,-1,-1.2,-1.2,-1,-1.8,
-1.8,-1.8,-1.5,-0.3,-1.8,-1.8,-1.8,1.3,1.3,0.6,0.5,0.5,0.5,-0.3,-1.8,
-2,-1.2,-1.8,-1.8,-1.8,-1.8,-1,0.8,0.4,1.2,0.5,0,1,-0.2,-1.8,
-0.5,2,-0.3,0.3,-0.8,0.3,-0.8,-0.8,-0.6,0.2,-1,-1.8,-1.5,-1.8,-1.8,
-0.6,-0.8,0.5,-1.8,-1.5,-2,-1.8,0.5,0.2,-1.5,1.8,-0.3,0.2,-0.5,0.6,1.8,1.8];
function dotColor(e){const st=[[-2,[106,208,208]],[-1,[156,204,206]],[0,[188,190,200]],[1,[212,180,196]],[2,[232,166,184]]];
e=Math.max(-2,Math.min(2,e));for(let i=1;i<st.length;i++){if(e<=st[i][0]){const a=st[i-1],b=st[i],f=(e-a[0])/(b[0]-a[0]);return 'rgb('+a[1].map((v,k)=>Math.round(v+(b[1][k]-v)*f)).join(',')+')';}}}
function dotR(p){return p<=0?0.7:0.7+Math.sqrt(p/75)*5.3;}
(function(){const g=document.getElementById('dots');
const boxL=[80,198,333,506,734],boxR=[193,329,501,729,946];const top=1297,bot=1482;
const rowY=r=>1304+dotRows.indexOf(r)*12.2;
const geneX={};
groupGenes.forEach((gs,gi)=>{const step=18.45;const start=boxL[gi]+(boxR[gi]-boxL[gi]-step*(gs.length-1))/2;gs.forEach((gn,k)=>geneX[gn]=start+k*step);
const bx=mk(g,'rect',{x:boxL[gi],y:top,width:boxR[gi]-boxL[gi],height:bot-top,fill:"none",stroke:"#222","stroke-width":1});

mk(g,'text',{x:(boxL[gi]+boxR[gi])/2,y:1286,"font-size":12,"text-anchor":"middle"},dotGroups[gi]);
gs.forEach(gn=>{mk(g,'line',{x1:geneX[gn],x2:geneX[gn],y1:bot,y2:bot+4,stroke:"#222","stroke-width":0.8});
mk(g,'text',{transform:`translate(${geneX[gn]+5},${bot+12}) rotate(-45)`,"font-size":11.5,"text-anchor":"end"},gn);
dotRows.forEach(r=>mk(g,'circle',{cx:geneX[gn],cy:rowY(r),r:0.7,fill:"#8fcfcf"}));});});
dotRows.forEach(r=>{mk(g,'text',{x:75,y:rowY(r)+4,"font-size":12,"text-anchor":"end"},r);mk(g,'line',{x1:76,x2:80,y1:rowY(r),y2:rowY(r),stroke:"#222","stroke-width":0.8});});
dotGene.forEach((gn,i)=>{const c=mk(g,'circle',{cx:geneX[gn],cy:rowY(dotCell[i]),r:dotR(dotPct[i]),fill:dotColor(dotExpr[i])});

});
mk(g,'text',{x:972,y:1302,"font-size":13.5},"Average Expression");
for(let i=0;i<40;i++)mk(g,'rect',{x:972,y:1312+i*1.9,width:17,height:2,fill:dotColor(2-i*4/39)});
[2,1,0,-1,-2].forEach((v,i)=>mk(g,'text',{x:995,y:1324+i*16.8,"font-size":12},v<0?"−"+(-v):v));
mk(g,'text',{x:972,y:1417,"font-size":13.5},"Percent Expressed");
[0,25,50,75].forEach((v,i)=>{mk(g,'circle',{cx:980,cy:1434+i*16,r:dotR(v),fill:"#111"});mk(g,'text',{x:995,y:1438+i*16,"font-size":12},v);});
})();
</script>
</body></html>
